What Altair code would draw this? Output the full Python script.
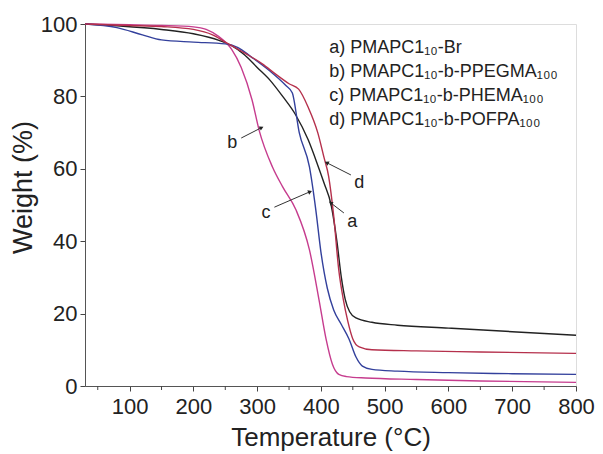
import altair as alt
import pandas as pd

# ---- data ----
a_temp = [30, 80, 150, 200, 240, 260, 280, 300, 320, 340, 360, 380, 395, 405, 416, 425, 432, 438, 445, 455, 480, 520, 600, 700, 800]
a_wt   = [100, 99.5, 98.5, 97.3, 95.5, 94, 91.5, 88, 84.5, 80, 75, 68, 61, 56, 50, 40, 30, 24, 20.5, 18.8, 17.6, 16.8, 16, 15, 14]

b_temp = [30, 100, 150, 200, 220, 240, 260, 275, 292, 303, 324, 340, 361, 382, 397, 408, 418, 428, 440, 470, 550, 650, 800]
b_wt   = [100, 99.8, 99.6, 99.2, 98.5, 96.5, 93, 88, 79, 70.7, 60.5, 55, 48.6, 37.6, 23.8, 13, 6, 3.2, 2.6, 2.2, 1.8, 1.4, 1.0]

c_temp = [30, 80, 120, 150, 200, 250, 270, 290, 320, 345, 355, 366, 382, 392, 400, 410, 420, 432, 444, 455, 465, 480, 520, 600, 700, 800]
c_wt   = [100, 99, 97, 95.6, 95, 94.5, 93.5, 91, 87, 83, 81, 70, 60.5, 48.6, 37, 27, 21, 17, 13, 8, 5.5, 4.6, 4.1, 3.7, 3.4, 3.2]

d_temp = [30, 100, 150, 200, 230, 250, 280, 308, 330, 350, 365, 380, 395, 405, 412, 420, 428, 435, 442, 450, 460, 480, 550, 650, 800]
d_wt   = [100, 99.6, 99.3, 98.5, 97, 95, 92, 89, 86, 83.5, 82, 77, 70, 63, 58, 47, 32, 24, 18, 13, 10.8, 10, 9.7, 9.4, 9]

series_keys = ["a", "b", "c", "d"]
series_colors = ["#222222", "#c63c8e", "#33409c", "#b5304c"]

legend_labels = [
    "a) PMAPC1₁₀-Br",
    "b) PMAPC1₁₀-b-PPEGMA₁₀₀",
    "c) PMAPC1₁₀-b-PHEMA₁₀₀",
    "d) PMAPC1₁₀-b-POFPA₁₀₀",
]
legend_x = [413, 413, 413, 413]
legend_y = [93.5, 86.8, 80.0, 73.5]

# annotation letters and arrows (data coordinates)
ann_letter = ["b", "c", "d", "a"]
ann_lx = [261, 314, 460, 449]
ann_ly = [67.0, 47.8, 56.0, 45.3]
arr_x0 = [275, 327, 447, 436]
arr_y0 = [68.5, 49.4, 58.3, 47.8]
arr_x1 = [306, 382, 410, 416]
arr_y1 = [71.3, 53.6, 61.6, 50.5]
arr_angle = [63, 67, 297, 308]

x_major = [100, 200, 300, 400, 500, 600, 700, 800]
x_minor = [50, 150, 250, 350, 450, 550, 650, 750]
y_ticks = [0, 10, 20, 30, 40, 50, 60, 70, 80, 90, 100]

# ---- build tables ----
rows = []
for key, tt, ww in [("a", a_temp, a_wt), ("b", b_temp, b_wt), ("c", c_temp, c_wt), ("d", d_temp, d_wt)]:
    for i, (t, w) in enumerate(zip(tt, ww)):
        rows.append({"series": key, "temp": t, "weight": w, "order": i})
df = pd.DataFrame(rows)

leg_df = pd.DataFrame({"label": legend_labels, "x": legend_x, "y": legend_y})
ann_df = pd.DataFrame({"letter": ann_letter, "lx": ann_lx, "ly": ann_ly,
                       "x0": arr_x0, "y0": arr_y0, "x1": arr_x1, "y1": arr_y1,
                       "angle": arr_angle})
minor_df = pd.DataFrame({"t": x_minor})

FONT = "Liberation Sans"

xscale = alt.Scale(domain=[30, 800], nice=False, zero=False)
yscale = alt.Scale(domain=[0, 100], nice=False)

xaxis = alt.Axis(values=x_major, title="Temperature (°C)", format="d",
                 labelOverlap=False,
                 grid=False, tickSize=5, labelFontSize=22, titleFontSize=26,
                 labelFont=FONT, titleFont=FONT, titleFontWeight="normal",
                 labelColor="#222", titleColor="#222", domainColor="#555",
                 tickColor="#444", labelPadding=5, titlePadding=7, labelFlush=False)
yaxis = alt.Axis(values=y_ticks, title="Weight (%)",
                 labelExpr="datum.value % 20 == 0 ? datum.label : ''",
                 labelOverlap=False,
                 grid=False, tickSize=5, labelFontSize=22, titleFontSize=27,
                 labelFont=FONT, titleFont=FONT, titleFontWeight="normal",
                 labelColor="#222", titleColor="#222", domainColor="#555",
                 tickColor="#444", labelPadding=3,
                 titleX=-62, titleY=163, titleBaseline="middle", titleAngle=270,
                 labelFlush=False)

lines = alt.Chart(df).mark_line(strokeWidth=1.4, interpolate="monotone").encode(
    x=alt.X("temp:Q", scale=xscale, axis=xaxis),
    y=alt.Y("weight:Q", scale=yscale, axis=yaxis),
    color=alt.Color("series:N", scale=alt.Scale(domain=series_keys, range=series_colors), legend=None),
    order="order:Q",
)

minor_ticks = alt.Chart(minor_df).mark_rule(color="#444", strokeWidth=1).encode(
    x=alt.X("t:Q", scale=xscale),
    y=alt.value(362), y2=alt.value(366))

legend_text = alt.Chart(leg_df).mark_text(align="left", baseline="middle", fontSize=18,
                                          font=FONT, color="#222").encode(
    x=alt.X("x:Q", scale=xscale), y=alt.Y("y:Q", scale=yscale), text="label:N")

arrows = alt.Chart(ann_df).mark_rule(color="#333", strokeWidth=1).encode(
    x=alt.X("x0:Q", scale=xscale), y=alt.Y("y0:Q", scale=yscale),
    x2="x1:Q", y2="y1:Q")

heads = alt.Chart(ann_df).mark_point(shape="triangle", filled=True, size=22,
                                     color="#222", opacity=1).encode(
    x=alt.X("x1:Q", scale=xscale), y=alt.Y("y1:Q", scale=yscale),
    angle=alt.Angle("angle:Q", scale=None))

letters = alt.Chart(ann_df).mark_text(fontSize=18, font=FONT, color="#222",
                                      align="center", baseline="middle").encode(
    x=alt.X("lx:Q", scale=xscale), y=alt.Y("ly:Q", scale=yscale), text="letter:N")

chart = alt.layer(lines, minor_ticks, arrows, heads, letters, legend_text).properties(
    width=491, height=362,
    autosize=alt.AutoSizeParams(type="none"),
    padding={"left": 77, "top": 16, "right": 19, "bottom": 66},
).configure_view(stroke="#555", strokeWidth=1).configure(background="white")

chart.save("out.html", embed_options={"renderer": "svg", "actions": False})
